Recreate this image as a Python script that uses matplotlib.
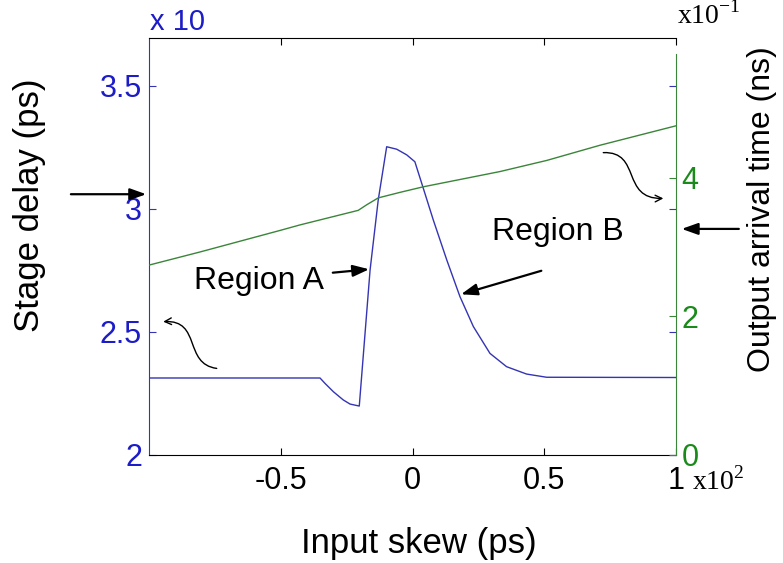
import matplotlib

matplotlib.use("Agg")
import matplotlib.pyplot as plt  # noqa: E402
from matplotlib.patches import FancyArrowPatch  # noqa: E402
from matplotlib.path import Path  # noqa: E402

# input skew in units of x10^2 ps, stage delay in units of x10 ps
skew_delay = [-1.0, -0.351, -0.332, -0.300, -0.263, -0.237, -0.202, -0.161, -0.130, -0.098,
              -0.060, -0.022, 0.009, 0.041, 0.079, 0.130, 0.180, 0.231, 0.294, 0.357,
              0.433, 0.509, 1.0]
stage_delay = [2.313, 2.313, 2.291, 2.257, 2.224, 2.207, 2.199, 2.752, 3.037, 3.253,
               3.243, 3.220, 3.192, 3.084, 2.955, 2.793, 2.644, 2.522, 2.413, 2.359,
               2.329, 2.316, 2.315]

# output arrival time in units of x10^-1 ns
skew_arrival = [-1.0, -0.806, -0.503, -0.427, -0.206, -0.174, -0.130, -0.047, 0.041,
                0.332, 0.509, 0.712, 1.0]
arrival = [2.74, 2.93, 3.24, 3.32, 3.53, 3.61, 3.71, 3.79, 3.87, 4.09, 4.25, 4.47, 4.75]

x_ticks = [-0.5, 0, 0.5, 1]
delay_ticks = [2, 2.5, 3, 3.5]
arrival_ticks = [0, 2, 4]

BLUE_LINE = "#3434b4"
BLUE_TXT = "#1c1cc8"
GREEN_LINE = "#3a853a"
GREEN_TXT = "#1a8a1a"

plt.rcParams["font.family"] = ["Liberation Sans", "DejaVu Sans"]

fig = plt.figure(figsize=(7.83, 5.63), dpi=100)
ax = fig.add_axes([149 / 783, 1 - 455 / 563, 527 / 783, 417 / 563])
ax2 = ax.twinx()

ax.plot(skew_delay, stage_delay, color=BLUE_LINE, lw=1.0)
ax2.plot(skew_arrival, arrival, color=GREEN_LINE, lw=1.0)

ax.set_xlim(-1, 1)
ax.set_ylim(2, 3.695)
ax2.set_ylim(0, 6.017)

ax.set_xticks(x_ticks)
ax.set_xticklabels(["-0.5", "0", "0.5", "1"])
ax.set_yticks(delay_ticks)
ax.set_yticklabels(["2", "2.5", "3", "3.5"])
ax2.set_yticks(arrival_ticks)
ax2.set_yticklabels(["0", "2", "4"])

ax.tick_params(axis="x", direction="in", top=True, length=5, pad=8, labelsize=22,
               color="black")
ax.tick_params(axis="y", direction="in", right=True, length=5, pad=5, labelsize=22,
               color=BLUE_LINE, labelcolor=BLUE_TXT)
ax2.tick_params(axis="y", direction="in", length=5, pad=4, labelsize=22,
                color=GREEN_LINE, labelcolor=GREEN_TXT)

ax.spines["left"].set_color(BLUE_LINE)
ax.spines["right"].set_visible(False)
for s in ["left", "top", "bottom"]:
    ax2.spines[s].set_visible(False)
ax2.spines["right"].set_color(GREEN_LINE)
ax2.spines["right"].set_bounds(0, 5.79)

# multipliers
ax.text(0.002, 1.038, "x 10", transform=ax.transAxes, color=BLUE_TXT, fontsize=21,
        ha="left", va="center")
fig.text(677 / 783, 1 - 15 / 563, r"x10$^{\mathregular{-1}}$", family="Liberation Serif",
         fontsize=20, ha="left", va="center")
fig.text(692 / 783, 1 - 481 / 563, r"x10$^{\mathregular{2}}$", family="Liberation Serif",
         fontsize=20, ha="left", va="center")

# axis labels
fig.text(30 / 783, 1 - 205 / 563, "Stage delay (ps)", rotation=90, fontsize=25,
         ha="center", va="center")
fig.text(762 / 783, 1 - 209 / 563, "Output arrival time (ns)", rotation=90, fontsize=23,
         ha="center", va="center")
fig.text(419 / 783, 1 - 553 / 563, "Input skew (ps)", fontsize=25, ha="center",
         va="baseline")

# region annotations
arrow_kw = dict(arrowstyle="-|>,head_length=0.7,head_width=0.25", color="black", lw=1.6,
                mutation_scale=14)
ax.text(-0.583, 2.707, "Region A", fontsize=23, ha="center", va="center")
ax.annotate("", xy=(-0.154, 2.756), xytext=(-0.313, 2.740), arrowprops=arrow_kw)
ax.text(0.552, 2.906, "Region B", fontsize=23, ha="center", va="center")
ax.annotate("", xy=(0.174, 2.650), xytext=(0.499, 2.752), arrowprops=arrow_kw)

# arrows pointing at the two axes
ax.annotate("", xy=(-1.0, 3.060), xytext=(-1.307, 3.060), arrowprops=arrow_kw,
            annotation_clip=False)
ax.annotate("", xy=(1.011, 2.919), xytext=(1.249, 2.919), arrowprops=arrow_kw,
            annotation_clip=False)

# curly arrows tying each curve to its axis
curl_right = Path([(0.724, 3.229), (0.87, 3.235), (0.79, 3.04), (0.952, 3.043)],
                  [Path.MOVETO, Path.CURVE4, Path.CURVE4, Path.CURVE4])
curl_left = Path([(-0.743, 2.352), (-0.87, 2.37), (-0.80, 2.55), (-0.946, 2.542)],
                 [Path.MOVETO, Path.CURVE4, Path.CURVE4, Path.CURVE4])
for p in (curl_right, curl_left):
    ax.add_patch(FancyArrowPatch(path=p, arrowstyle="->", color="black", lw=1.0,
                                 mutation_scale=12, transform=ax.transData))

fig.savefig("out.png", dpi=100)
